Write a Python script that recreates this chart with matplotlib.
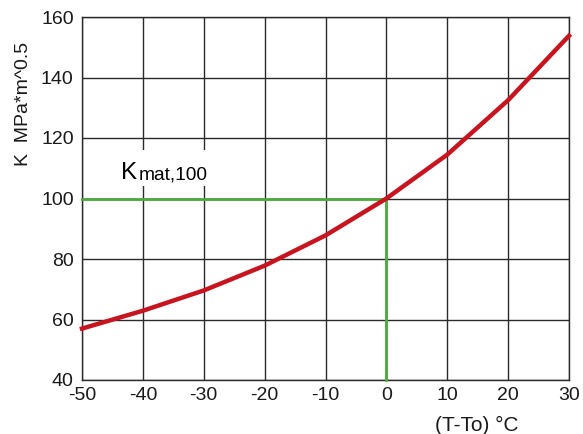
import matplotlib
matplotlib.use('Agg')
import matplotlib.pyplot as plt
import numpy as np

plt.rcParams['font.family'] = ['Liberation Sans', 'DejaVu Sans']
plt.rcParams['axes.unicode_minus'] = False

# master curve
T = [-50, -40, -30, -20, -10, 0, 10, 20, 30]
K = [57.0, 62.9, 69.6, 77.8, 87.8, 100.0, 114.5, 132.5, 153.8]
K_ref = 100
T_ref = 0
x_ticks = [-50, -40, -30, -20, -10, 0, 10, 20, 30]
y_ticks = [40, 60, 80, 100, 120, 140, 160]

fig = plt.figure(figsize=(5.83, 4.34), dpi=100)
ax = fig.add_axes([82/583, 54/434, 487/583, 363/434])

ax.set_xlim(-50, 30)
ax.set_ylim(40, 160)
ax.set_xticks(x_ticks)
ax.set_yticks(y_ticks)
ax.grid(True, color='#2a2a2a', lw=1.0)
ax.set_axisbelow(True)
for s in ax.spines.values():
    s.set_color('#2a2a2a')
    s.set_linewidth(1.0)
ax.tick_params(length=0, labelsize=14, colors='#1a1a1a')
ax.tick_params(axis='x', pad=5)
ax.tick_params(axis='y', pad=6)

ax.plot([-50, T_ref], [K_ref, K_ref], color='#4aab3a', lw=2, zorder=3, clip_on=False)
ax.plot([T_ref, T_ref], [40, K_ref], color='#4aab3a', lw=2, zorder=3, clip_on=False)
ax.plot(T, K, color='#c8141e', lw=3.2, zorder=4, clip_on=False)

# white cover behind the label
ax.axvspan(-45.5, -26.5, ymin=(104.0 - 40) / 120, ymax=(116 - 40) / 120,
           color='white', zorder=2, lw=0)
ax.text(-43.6, 106.4, 'K', fontsize=17.5, va='baseline', ha='left', zorder=6)
ax.text(-40.7, 106.4, 'mat,100', fontsize=13.8, va='baseline', ha='left', zorder=6)

ax.set_ylabel('K  MPa*m^0.5', fontsize=14, color='#1a1a1a')
ax.yaxis.set_label_coords(-0.121, 0.76)
ax.set_xlabel('(T-To) °C', fontsize=15, color='#1a1a1a')
ax.xaxis.set_label_coords(0.811, -0.124)
ax.xaxis.label.set_va('center')
ax.yaxis.label.set_va('center')

fig.savefig('out.png', dpi=100, facecolor='white')
